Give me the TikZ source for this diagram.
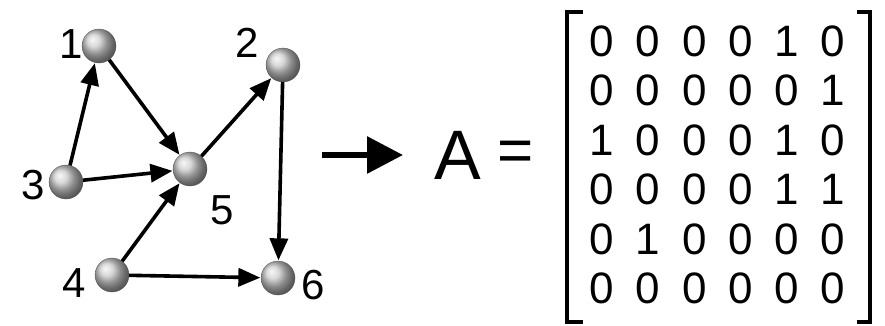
\documentclass[tikz,border=0pt]{standalone}
\usepackage{fontspec}
\setmainfont{Liberation Sans}
\usetikzlibrary{arrows.meta}
\begin{document}
\begin{tikzpicture}[x=1pt,y=-1pt,
  vertex/.style={circle,minimum size=34pt,inner sep=0pt,shading=ball,ball color=gray!40!white,draw=gray!60!black,line width=0.3pt},
  vlabel/.style={inner sep=0pt,font=\fontsize{42pt}{42pt}\selectfont},
  edge/.style={line width=3.6pt,-{Triangle[length=22pt,width=18pt]},shorten >=0.5pt},
  digit/.style={inner sep=0pt,font=\fontsize{44pt}{44pt}\selectfont},
  bracket/.style={line width=4pt,line cap=butt,line join=miter}]
\useasboundingbox (0,0) rectangle (885,325);
% vertices
\node[vertex] (n1) at (99,46) {};
\node[vertex] (n2) at (283,65) {};
\node[vertex] (n3) at (66,182) {};
\node[vertex] (n5) at (190,169) {};
\node[vertex] (n4) at (112,275) {};
\node[vertex] (n6) at (278,278) {};
% labels
\node[vlabel] (l1) at (71,44) {1};
\node[vlabel] (l2) at (247,43) {2};
\node[vlabel] (l3) at (33,185) {3};
\node[vlabel] (l5) at (222,210) {5};
\node[vlabel] (l4) at (74,283) {4};
\node[vlabel] (l6) at (313,285) {6};
% edges
\draw[edge] (n3) -- (n1);
\draw[edge] (n1) -- (n5);
\draw[edge] (n3) -- (n5);
\draw[edge] (n4) -- (n5);
\draw[edge] (n5) -- (n2);
\draw[edge] (n2) -- (n6);
\draw[edge] (n4) -- (n6);
% big arrow
\coordinate (ba) at (322,155);
\coordinate (bb) at (403,155);
\draw[line width=6pt,-{Triangle[length=36pt,width=36pt]}] (ba) -- (bb);
% A =
\node[inner sep=0pt,font=\fontsize{70pt}{70pt}\selectfont] (A) at (458,155) {A};
\node[inner sep=0pt,font=\fontsize{62pt}{62pt}\selectfont] (eq) at (516,156) {=};
% brackets
\coordinate (lb1) at (583,12);
\coordinate (lb2) at (567,12);
\coordinate (lb3) at (567,322);
\coordinate (lb4) at (583,322);
\draw[bracket] (lb1) -- (lb2) -- (lb3) -- (lb4);
\coordinate (rb1) at (857,12);
\coordinate (rb2) at (870,12);
\coordinate (rb3) at (870,322);
\coordinate (rb4) at (857,322);
\draw[bracket] (rb1) -- (rb2) -- (rb3) -- (rb4);
% matrix entries
\foreach \r/\row in {1/{0,0,0,0,1,0},2/{0,0,0,0,0,1},3/{1,0,0,0,1,0},4/{0,0,0,0,1,1},5/{0,1,0,0,0,0},6/{0,0,0,0,0,0}}{
  \foreach \v [count=\c] in \row {
    \node[digit] (m-\r-\c) at ({602+46.2*(\c-1)},{41+49.5*(\r-1)}) {\v};
  }
}
\end{tikzpicture}
\end{document}
